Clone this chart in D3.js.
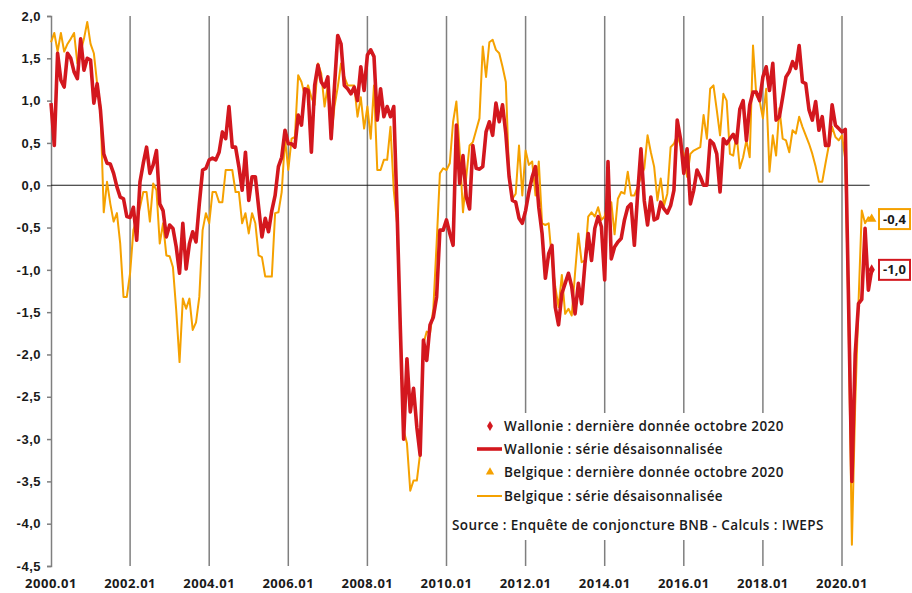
<!DOCTYPE html>
<html lang="fr">
<head>
<meta charset="UTF-8">
<title>Wallonie / Belgique - indicateur de confiance</title>
<script src="https://d3js.org/d3.v7.min.js"></script>
<style>
    body { margin: 0; background: #fff; }
    svg { display: block; font-family: "Open Sans", "Noto Sans", sans-serif; }
    .tick-label { font-size: 13px; font-weight: 700; fill: #1a1a1a; letter-spacing: 0.5px; }
    .legend-text { font-size: 13.5px; font-weight: 600; fill: #1a1a1a; letter-spacing: 0.4px; }
</style>
</head>
<body>
<div id="chart"></div>
<script>
// x tick labels, one every 24 months starting 2000.01
const xTickLabels = ["2000.01", "2002.01", "2004.01", "2006.01", "2008.01", "2010.01",
                     "2012.01", "2014.01", "2016.01", "2018.01", "2020.01"];
const yTicks = [2, 1.5, 1, 0.5, 0, -0.5, -1, -1.5, -2, -2.5, -3, -3.5, -4, -4.5];

// monthly values, 2000.01 -> 2020.10
const wallonie = [
    0.97, 0.47, 1.56, 1.24, 1.16, 1.56, 1.50, 1.34, 1.26, 1.73, 1.36, 1.50,
    1.48, 0.97, 1.20, 0.89, 0.37, 0.26, 0.25, 0.14, -0.02, -0.14, -0.16, -0.37,
    -0.38, -0.26, -0.65, 0.04, 0.26, 0.45, 0.14, 0.24, 0.41, -0.22, -0.30, -0.61,
    -0.47, -0.51, -0.73, -1.04, -0.45, -0.99, -0.69, -0.55, -0.67, -0.22, 0.18, 0.20,
    0.30, 0.32, 0.30, 0.39, 0.63, 0.55, 0.93, 0.45, 0.45, 0.22, -0.06, 0.39,
    -0.18, 0.10, 0.10, -0.26, -0.61, -0.39, -0.55, -0.30, -0.12, 0.22, 0.33, 0.65,
    0.49, 0.49, 0.45, 0.83, 0.71, 1.14, 1.12, 0.39, 1.18, 1.42, 1.22, 1.16,
    1.28, 0.55, 1.16, 1.77, 1.67, 1.18, 1.14, 1.08, 1.16, 1.00, 1.40, 1.12,
    1.54, 1.60, 1.52, 0.77, 1.14, 0.81, 0.93, 0.81, 0.93, -0.30, -1.70, -3.00,
    -2.05, -2.68, -2.40, -2.86, -3.19, -1.83, -2.07, -1.65, -1.56, -1.32, -0.53, -0.53,
    -0.41, -0.57, -0.71, 0.71, 0.02, 0.35, -0.14, -0.28, 0.47, 0.20, 0.19, 0.22,
    0.63, 0.75, 0.59, 0.97, 0.75, 0.95, 0.61, 0.10, -0.18, -0.20, -0.39, -0.45,
    -0.30, -0.08, 0.10, 0.22, -0.26, -0.57, -1.10, -0.81, -0.71, -1.44, -1.65, -1.28,
    -1.16, -1.04, -1.20, -1.52, -1.16, -1.40, -0.93, -0.57, -0.89, -0.51, -0.37, -0.49,
    -1.12, 0.28, -0.87, -0.73, -0.67, -0.63, -0.41, -0.26, -0.22, -0.71, -0.10, 0.43,
    -0.18, -0.47, -0.14, -0.41, -0.39, -0.20, -0.28, -0.33, -0.24, -0.06, 0.77, 0.55,
    0.14, 0.43, -0.22, -0.06, 0.18, 0.10, 0.00, 0.00, 0.53, 0.49, 0.37, -0.08,
    0.55, 0.49, 0.55, 0.60, 0.50, 0.90, 1.00, 0.53, 0.95, 1.10, 1.10, 1.00,
    1.28, 1.40, 1.12, 1.44, 0.77, 0.81, 1.04, 1.28, 1.34, 1.46, 1.38, 1.65,
    1.22, 1.20, 0.89, 0.77, 0.99, 0.65, 0.81, 0.47, 0.47, 0.95, 0.71, 0.67,
    0.63, 0.66, -1.40, -3.50, -2.00, -1.40, -1.35, -0.51, -1.24, -1.00
];
const belgique = [
    1.69, 1.80, 1.58, 1.80, 1.58, 1.67, 1.73, 1.80, 1.44, 1.58, 1.73, 1.93,
    1.67, 1.56, 1.20, 0.93, -0.32, 0.04, -0.22, -0.43, -0.33, -0.69, -1.32, -1.32,
    -1.04, -0.53, -0.41, -0.26, -0.08, -0.08, -0.43, 0.02, -0.06, -0.69, -0.45, -0.83,
    -0.84, -0.97, -1.48, -2.09, -1.34, -1.46, -1.34, -1.71, -1.62, -1.32, -0.53, -0.33,
    -0.45, -0.08, -0.08, -0.20, -0.20, 0.18, 0.18, 0.18, -0.08, -0.08, -0.45, -0.33,
    -0.57, -0.33, -0.45, -0.83, -0.85, -1.08, -1.08, -1.08, -0.33, -0.32, -0.08, 0.55,
    0.18, 0.55, 0.57, 1.30, 1.22, 1.06, 1.18, 1.04, 0.95, 1.44, 1.32, 0.93,
    1.18, 0.55, 0.93, 1.16, 1.44, 1.28, 1.18, 1.18, 1.18, 0.81, 1.04, 0.67,
    0.93, 0.55, 1.18, 0.18, 0.18, 0.30, 0.30, 0.69, -0.06, -0.45, -1.67, -2.90,
    -3.05, -3.61, -3.49, -3.49, -3.17, -1.87, -1.73, -1.75, -1.46, -0.69, 0.14, 0.20,
    0.18, 0.26, 0.75, 0.99, 0.41, -0.32, 0.10, 0.47, 0.51, 0.65, 0.79, 1.64,
    1.28, 1.69, 1.72, 1.60, 1.56, 1.40, 1.22, 0.10, -0.16, -0.10, 0.47, -0.12,
    0.41, 0.24, 0.28, -0.12, 0.28, -0.45, -0.47, -0.45, -0.89, -1.20, -1.44, -1.06,
    -1.52, -1.46, -1.54, -1.04, -0.57, -0.91, -0.89, -0.37, -0.32, -0.37, -0.26, -0.41,
    -0.37, -0.20, -0.20, -0.58, -0.16, -0.08, -0.10, 0.16, -0.12, -0.12, -0.02, 0.10,
    0.20, 0.59, 0.39, 0.22, -0.18, 0.08, -0.24, -0.10, 0.45, 0.49, 0.59, 0.47,
    0.37, 0.10, 0.37, 0.41, 0.43, 0.45, 0.83, 0.55, 1.14, 1.18, 0.89, 0.59,
    1.08, 1.00, 0.37, 0.35, 0.61, 0.20, 0.33, 0.53, 0.33, 1.65, 1.06, 1.00,
    0.79, 1.14, 0.16, 0.59, 0.35, 0.91, 0.55, 0.53, 0.39, 0.65, 0.61, 0.81,
    0.69, 0.59, 0.49, 0.37, 0.22, 0.04, 0.04, 0.26, 0.47, 0.69, 0.57, 0.53,
    0.59, 0.30, -1.60, -4.25, -2.60, -1.40, -0.30, -0.45, -0.38, -0.40
];
const legendLabels = [
    "Wallonie : dernière donnée octobre 2020",
    "Wallonie : série désaisonnalisée",
    "Belgique : dernière donnée octobre 2020",
    "Belgique : série désaisonnalisée"
];
const sourceLabel = "Source : Enquête de conjoncture BNB - Calculs : IWEPS";

const RED = "#d3171e";
const ORANGE = "#f5a100";
const GRID = "#7f7f7f";

const width = 912, height = 593;
const svg = d3.select("#chart").append("svg")
    .attr("width", width)
    .attr("height", height);

// months since 2000.01 -> x
const x = d3.scaleLinear().domain([0, 240]).range([51, 842]);
const y = d3.scaleLinear().domain([-4.5, 2]).range([566, 16]);
const fmt = v => d3.format(".1f")(v).replace(".", ",").replace("−", "-");

// vertical grid lines every two years
svg.append("g")
    .selectAll("line")
    .data(xTickLabels.slice(1))
    .enter().append("line")
    .attr("x1", (d, i) => x((i + 1) * 24))
    .attr("x2", (d, i) => x((i + 1) * 24))
    .attr("y1", y(2))
    .attr("y2", y(-4.5))
    .attr("stroke", GRID)
    .attr("stroke-width", 1.5);

// y axis
const yAxis = svg.append("g")
    .attr("transform", `translate(${x(0)},0)`)
    .call(d3.axisLeft(y).tickValues(yTicks).tickSize(4).tickPadding(6).tickFormat(fmt));
yAxis.select(".domain").attr("stroke", GRID).attr("stroke-width", 1.5);
yAxis.selectAll(".tick line").attr("stroke", GRID).attr("stroke-width", 1.5);
yAxis.selectAll("text").attr("class", "tick-label").attr("fill", null);

// x tick labels
svg.append("g")
    .selectAll("text")
    .data(xTickLabels)
    .enter().append("text")
    .attr("class", "tick-label")
    .attr("x", (d, i) => x(i * 24))
    .attr("y", 588)
    .attr("text-anchor", "middle")
    .text(d => d);

// legend background hides the grid behind it
svg.append("rect")
    .attr("x", 450).attr("y", 413)
    .attr("width", 385).attr("height", 127)
    .attr("fill", "#fff");

// zero line
svg.append("line")
    .attr("x1", x(0)).attr("x2", x(249) - 2)
    .attr("y1", y(0)).attr("y2", y(0))
    .attr("stroke", "#1a1a1a")
    .attr("stroke-width", 1.2);

const line = d3.line()
    .x((d, i) => x(i))
    .y(d => y(d));

svg.append("path")
    .datum(belgique)
    .attr("fill", "none")
    .attr("stroke", ORANGE)
    .attr("stroke-width", 2)
    .attr("stroke-linejoin", "round")
    .attr("d", line);

svg.append("path")
    .datum(wallonie)
    .attr("fill", "none")
    .attr("stroke", RED)
    .attr("stroke-width", 3.6)
    .attr("stroke-linejoin", "round")
    .attr("d", line);

// last data points
const last = wallonie.length - 1;
svg.append("path")
    .attr("d", d3.symbol(d3.symbolTriangle, 40)())
    .attr("transform", `translate(${x(last)},${y(belgique[last])})`)
    .attr("fill", ORANGE);
svg.append("path")
    .attr("d", d3.symbol(d3.symbolDiamond, 36)())
    .attr("transform", `translate(${x(last)},${y(wallonie[last])})`)
    .attr("fill", RED);

// end value boxes
[[belgique[last], ORANGE], [wallonie[last], RED]].forEach(([v, c]) => {
    const g = svg.append("g").attr("transform", `translate(879,${y(v)})`);
    g.append("rect")
        .attr("x", 0).attr("y", -10)
        .attr("width", 31).attr("height", 20)
        .attr("fill", "#fff")
        .attr("stroke", c)
        .attr("stroke-width", 2);
    g.append("text")
        .attr("class", "tick-label")
        .attr("x", 15.5).attr("y", 4.5)
        .attr("text-anchor", "middle")
        .style("letter-spacing", "0px")
        .text(fmt(v));
});

// legend
const legend = svg.append("g");
const rows = [426, 449, 472, 496];
legend.append("path")
    .attr("d", d3.symbol(d3.symbolDiamond, 30)())
    .attr("transform", `translate(490,${rows[0]})`)
    .attr("fill", RED);
legend.append("line")
    .attr("x1", 477).attr("x2", 502)
    .attr("y1", rows[1]).attr("y2", rows[1])
    .attr("stroke", RED).attr("stroke-width", 3.6);
legend.append("path")
    .attr("d", d3.symbol(d3.symbolTriangle, 30)())
    .attr("transform", `translate(490,${rows[2]})`)
    .attr("fill", ORANGE);
legend.append("line")
    .attr("x1", 477).attr("x2", 502)
    .attr("y1", rows[3]).attr("y2", rows[3])
    .attr("stroke", ORANGE).attr("stroke-width", 2);

legend.selectAll("text.item")
    .data(legendLabels)
    .enter().append("text")
    .attr("class", "legend-text item")
    .attr("x", 504)
    .attr("y", (d, i) => rows[i] + 4.5)
    .text(d => d);

legend.append("text")
    .attr("class", "legend-text")
    .attr("x", 452)
    .attr("y", 529.5)
    .text(sourceLabel);
</script>
</body>
</html>
